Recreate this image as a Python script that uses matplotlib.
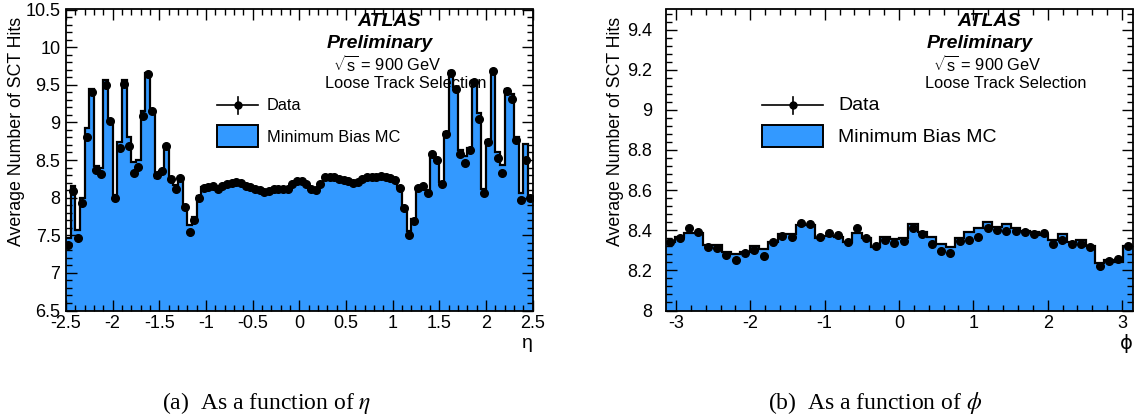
import numpy as np
import matplotlib
matplotlib.use('Agg')
import matplotlib.pyplot as plt
from matplotlib.patches import Rectangle
from matplotlib.lines import Line2D
from matplotlib.ticker import MultipleLocator

plt.rcParams['font.family'] = ['Liberation Sans', 'DejaVu Sans']
plt.rcParams['axes.unicode_minus'] = False
plt.rcParams['mathtext.fontset'] = 'custom'
plt.rcParams['mathtext.rm'] = 'Liberation Sans'
plt.rcParams['mathtext.it'] = 'Liberation Sans:italic'

# ---------------- data ----------------
eta_data = [7.37, 8.09, 7.47, 7.93, 8.81, 9.41, 8.37, 8.32, 9.50, 9.02,
            8.00, 8.66, 9.51, 8.69, 8.33, 8.41, 9.08, 9.64, 9.15, 8.30,
            8.35, 8.69, 8.25, 8.12, 8.26, 7.87, 7.54, 7.70, 8.00, 8.13,
            8.14, 8.15, 8.12, 8.16, 8.175, 8.19, 8.205, 8.19, 8.16, 8.14,
            8.12, 8.10, 8.07, 8.09, 8.11, 8.11, 8.11, 8.12, 8.175, 8.22,
            8.22, 8.185, 8.11, 8.10, 8.185, 8.27, 8.28, 8.27, 8.25, 8.24,
            8.22, 8.20, 8.21, 8.25, 8.27, 8.28, 8.28, 8.285, 8.27, 8.265,
            8.24, 8.13, 7.86, 7.50, 7.69, 8.13, 8.15, 8.06, 8.58, 8.50,
            8.18, 8.85, 9.65, 9.44, 8.58, 8.46, 8.63, 9.53, 9.05, 8.06,
            8.74, 9.68, 8.52, 8.33, 9.42, 9.31, 8.76, 7.97, 8.50, 7.99]

eta_mc = [7.46, 8.15, 7.57, 8.00, 8.92, 9.45, 8.42, 8.40, 9.56, 9.03,
          8.03, 8.74, 9.56, 8.80, 8.47, 8.50, 9.15, 9.66, 9.12, 8.26,
          8.36, 8.64, 8.23, 8.17, 8.27, 7.89, 7.63, 7.74, 8.02, 8.14,
          8.15, 8.15, 8.13, 8.16, 8.18, 8.19, 8.21, 8.19, 8.17, 8.15,
          8.13, 8.11, 8.08, 8.09, 8.11, 8.12, 8.12, 8.13, 8.18, 8.22,
          8.22, 8.19, 8.12, 8.11, 8.19, 8.27, 8.28, 8.27, 8.26, 8.24,
          8.23, 8.21, 8.22, 8.25, 8.27, 8.28, 8.28, 8.29, 8.28, 8.27,
          8.25, 8.14, 7.88, 7.56, 7.72, 8.14, 8.16, 8.10, 8.59, 8.52,
          8.21, 8.87, 9.68, 9.47, 8.63, 8.55, 8.66, 9.55, 9.12, 8.12,
          8.76, 9.69, 8.61, 8.43, 9.45, 9.38, 8.80, 8.06, 8.71, 8.01]

phi_data = [8.339, 8.359, 8.409, 8.392, 8.314, 8.312, 8.276, 8.253, 8.289, 8.301,
            8.273, 8.339, 8.369, 8.364, 8.438, 8.430, 8.364, 8.385, 8.375, 8.339,
            8.413, 8.360, 8.322, 8.352, 8.334, 8.344, 8.409, 8.381, 8.329, 8.298,
            8.286, 8.347, 8.352, 8.364, 8.410, 8.400, 8.397, 8.397, 8.389, 8.382,
            8.384, 8.331, 8.349, 8.331, 8.331, 8.314, 8.223, 8.246, 8.256, 8.322]

phi_mc = [8.342, 8.367, 8.385, 8.385, 8.326, 8.327, 8.293, 8.281, 8.290, 8.322,
          8.306, 8.342, 8.380, 8.380, 8.425, 8.425, 8.359, 8.369, 8.367, 8.342,
          8.385, 8.359, 8.314, 8.367, 8.358, 8.361, 8.430, 8.390, 8.364, 8.331,
          8.314, 8.361, 8.389, 8.410, 8.443, 8.418, 8.433, 8.410, 8.397, 8.389,
          8.375, 8.352, 8.382, 8.342, 8.350, 8.322, 8.238, 8.253, 8.240, 8.322]

eta_range = (-2.5, 2.5)
phi_range = (-np.pi, np.pi)

eta_xticks = [-2.5, -2, -1.5, -1, -0.5, 0, 0.5, 1, 1.5, 2, 2.5]
eta_xticklabels = ['-2.5', '-2', '-1.5', '-1', '-0.5', '0', '0.5', '1', '1.5', '2', '2.5']
eta_yticks = [6.5, 7, 7.5, 8, 8.5, 9, 9.5, 10, 10.5]
eta_yticklabels = ['6.5', '7', '7.5', '8', '8.5', '9', '9.5', '10', '10.5']
phi_xticks = [-3, -2, -1, 0, 1, 2, 3]
phi_xticklabels = ['-3', '-2', '-1', '0', '1', '2', '3']
phi_yticks = [8, 8.2, 8.4, 8.6, 8.8, 9, 9.2, 9.4]
phi_yticklabels = ['8', '8.2', '8.4', '8.6', '8.8', '9', '9.2', '9.4']

FILL = '#3399ff'

W, H = 1139, 419
fig = plt.figure(figsize=(W / 100, H / 100), dpi=100)


def fx(x):
    return x / W


def fy(y):
    return 1 - y / H


axL = fig.add_axes([fx(66), fy(310.5), fx(532.5) - fx(66), fy(9.5) - fy(310.5)])
axR = fig.add_axes([fx(665.5), fy(310.5), fx(1132.5) - fx(665.5), fy(9.5) - fy(310.5)])


def draw(ax, mc, data, rng, ylim):
    n = len(mc)
    edges = np.linspace(rng[0], rng[1], n + 1)
    centers = 0.5 * (edges[:-1] + edges[1:])
    ax.stairs(mc, edges, baseline=ylim[0] - 1, fill=True, color=FILL, lw=0, zorder=1)
    ax.stairs(mc, edges, baseline=None, color='black', lw=1.6, zorder=2)
    ax.plot(centers, data, 'o', color='black', ms=5.5, zorder=3)
    ax.set_xlim(*rng)
    ax.set_ylim(*ylim)


draw(axL, eta_mc, eta_data, eta_range, (6.5, 10.5))
draw(axR, phi_mc, phi_data, phi_range, (8.0, 9.5))

axL.set_xticks(eta_xticks)
axL.set_xticklabels(eta_xticklabels)
axL.set_yticks(eta_yticks)
axL.set_yticklabels(eta_yticklabels)
axL.xaxis.set_minor_locator(MultipleLocator(0.1))
axL.yaxis.set_minor_locator(MultipleLocator(0.1))

axR.set_xticks(phi_xticks)
axR.set_xticklabels(phi_xticklabels)
axR.set_yticks(phi_yticks)
axR.set_yticklabels(phi_yticklabels)
axR.xaxis.set_minor_locator(MultipleLocator(0.2))
axR.yaxis.set_minor_locator(MultipleLocator(0.04))

for ax, ypad in ((axL, 4.0), (axR, 9.5)):
    ax.tick_params(which='both', direction='in', top=True, right=True, width=1.0)
    ax.tick_params(which='major', length=8)
    ax.tick_params(which='minor', length=4)
    ax.tick_params(axis='x', which='major', labelsize=13, pad=3)
    ax.tick_params(axis='y', which='major', labelsize=13, pad=ypad)
    for s in ax.spines.values():
        s.set_linewidth(1.3)

# axis titles
for x in (17, 616):
    fig.text(fx(x), fy(17), 'Average Number of SCT Hits', rotation=90,
             ha='center', va='top', fontsize=12.8)
fig.text(fx(527), fy(343), '\u03b7', ha='center', va='center', fontsize=14)
fig.text(fx(1126), fy(343), '\u03d5', ha='center', va='center', fontsize=14,
         family=['DejaVu Sans'])

# ATLAS labels and legends
for dx in (0, 600):
    fig.text(fx(357 + dx), fy(21), 'ATLAS', ha='left', va='center', fontsize=14,
             fontweight='bold', fontstyle='italic')
    fig.text(fx(327 + dx), fy(43), 'Preliminary', ha='left', va='center', fontsize=14,
             fontweight='bold', fontstyle='italic')
    fig.text(fx(333 + dx), fy(65), r'$\sqrt{\mathrm{s}}$ = 900 GeV', ha='left', va='center',
             fontsize=11.8)
    fig.text(fx(325 + dx), fy(84), 'Loose Track Selection', ha='left', va='center',
             fontsize=11.8)

legends = [
    # x0, x1, text x, fontsize
    (217, 258, 267, 11.8),
    (762, 823, 838, 14),
]
for x0, x1, tx, fs in legends:
    fig.add_artist(Line2D([fx(x0), fx(x1)], [fy(105), fy(105)], color='black', lw=1.2,
                          transform=fig.transFigure))
    xm = 0.5 * (x0 + x1)
    fig.add_artist(Line2D([fx(xm), fx(xm)], [fy(97), fy(114)], color='black', lw=1.2,
                          transform=fig.transFigure))
    fig.add_artist(Line2D([fx(xm)], [fy(105)], marker='o', ms=5, color='black',
                          transform=fig.transFigure))
    fig.text(fx(tx), fy(105), 'Data', ha='left', va='center', fontsize=fs)
    fig.add_artist(Rectangle((fx(x0), fy(147)), fx(x1) - fx(x0), fy(125) - fy(147),
                             facecolor=FILL, edgecolor='black', lw=1.4,
                             transform=fig.transFigure))
    fig.text(fx(tx), fy(137), 'Minimum Bias MC', ha='left', va='center', fontsize=fs)

# captions
fig.text(fx(267), fy(403), r'(a)  As a function of $\eta$', ha='center', va='center',
         fontsize=17, family='Liberation Serif', math_fontfamily='stix')
fig.text(fx(875), fy(403), r'(b)  As a function of $\phi$', ha='center', va='center',
         fontsize=17, family='Liberation Serif', math_fontfamily='stix')

fig.savefig('out.png', dpi=100)
